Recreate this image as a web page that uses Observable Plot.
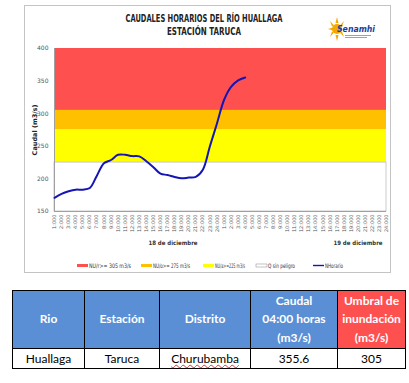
<!DOCTYPE html>
<html><head><meta charset="utf-8">
<script src="https://cdn.jsdelivr.net/npm/d3@7"></script>
<script src="https://cdn.jsdelivr.net/npm/@observablehq/plot@0.6"></script>
<style>
body{margin:0;background:#fff;}
#wrap{position:relative;width:409px;height:383px;overflow:hidden;font-family:"Liberation Sans Narrow","DejaVu Sans Condensed",sans-serif;}
#box{position:absolute;left:24px;top:5px;width:367px;height:268px;border:1px solid #c4c4c4;box-sizing:border-box;}
#chart{position:absolute;left:0;top:0;}
.day{position:absolute;font-weight:bold;font-size:6px;color:#333;transform:translateX(-50%);}
#legend{position:absolute;top:260px;left:0;}
table{position:absolute;left:12px;top:290px;border-collapse:collapse;font-family:Lato,"Open Sans",sans-serif;font-size:12px;}
td{border:1px solid #000;text-align:center;padding:0;}
th{border:1px solid #000;color:#fff;font-weight:bold;background:#5a8fd6;line-height:18.5px;padding:0;}
th.red{background:#ff5050;}
</style></head>
<body><div id="wrap">
<div id="box"></div>
<div id="chart"></div>
<svg style="position:absolute;left:0;top:0" width="409" height="45">
  <text x="204" y="22" text-anchor="middle" font-family="Liberation Sans Narrow, DejaVu Sans" font-weight="bold" font-size="10" fill="#222" textLength="157" lengthAdjust="spacingAndGlyphs">CAUDALES HORARIOS DEL RÍO HUALLAGA</text>
  <text x="204" y="35" text-anchor="middle" font-family="Liberation Sans Narrow, DejaVu Sans" font-weight="bold" font-size="10" fill="#222" textLength="74" lengthAdjust="spacingAndGlyphs">ESTACIÓN TARUCA</text>
</svg>
<svg id="logo" style="position:absolute;left:328px;top:16px" width="52" height="28">
  <g fill="#f5a800">
    <circle cx="9" cy="13" r="5"/>
    <path d="M9 1 L10.5 7 L7.5 7Z M9 25 L10.5 19 L7.5 19Z M0 13 L5 11.5 L5 14.5Z M2 5 L6 9.5 L4 10.5Z M2 21 L6 16.5 L4 15.5Z M16 5 L12 9.5 L14 10.5Z M16 21 L12 16.5 L14 15.5Z"/>
  </g>
  <text x="9" y="16" font-family="DejaVu Sans" font-style="italic" font-weight="bold" font-size="9" fill="#1d3f9a" textLength="38" lengthAdjust="spacingAndGlyphs">Senamhi</text>
  <rect x="17" y="19" width="26" height="0.8" fill="#7a8ab8"/>
  <rect x="17" y="21" width="22" height="0.8" fill="#7a8ab8"/>
</svg>
<div class="day" style="left:173px;top:239px">18 de diciembre</div>
<div class="day" style="left:358px;top:239px">19 de diciembre</div>
<svg id="legend" width="409" height="12"></svg>
<table>
<tr style="height:58px"><th style="width:71px">Rio</th><th style="width:74px">Estación</th><th style="width:90px">Distrito</th><th style="width:86px">Caudal<br>04:00 horas<br>(m3/s)</th><th class="red" style="width:67px">Umbral de<br>inundación<br>(m3/s)</th></tr>
<tr style="height:20px"><td id="c0"></td><td id="c1"></td><td id="c2" style="text-decoration:underline wavy #e03030;text-decoration-thickness:1px;"></td><td id="c3"></td><td id="c4"></td></tr>
</table>
</div>
<script>
const hourLabels = ["1:000","2:000","3:000","4:000","5:000","6:000","7:000","8:000","9:000","10:000","11:000","12:000","13:000","14:000","15:000","16:000","17:000","18:000","19:000","20:000","21:000","22:000","23:000","24:000","1:000","2:000","3:000","4:000","5:000","6:000","7:000","8:000","9:000","10:000","11:000","12:000","13:000","14:000","15:000","16:000","17:000","18:000","19:000","20:000","21:000","22:000","23:000","24:000"];
const caudal = [171,177,181,183.5,183.5,186,205,224,229,237,237,235,234.5,227,218,208,206,203,201,202,203,214,250,285,321,341,351,355.6];
const bandLabels = ["NU/r>= 305 m3/s","NU/o>= 275 m3/s","NU/a>=225 m3/s","Q sin peligro"];
const bandLow = [305,275,225,150];
const bandHigh = [400,305,275,225];
const bandColors = ["#ff5050","#ffc000","#ffff00","#ffffff"];
const lineLabel = "NHorario";
const lineColor = "#1515b5";
const yTicks = [150,200,250,300,350,400];
const tableValues = ["Huallaga","Taruca","Churubamba","355.6","305"];

const bands = bandLabels.map((l,i)=>({label:l, lo:bandLow[i], hi:bandHigh[i], color:bandColors[i]}));
const series = caudal.map((v,i)=>({i, v}));
const lastIdx = hourLabels.length - 1;

const plot = Plot.plot({
  width: 409, height: 245,
  marginLeft: 54, marginRight: 23, marginTop: 48, marginBottom: 34,
  style: {fontFamily: "DejaVu Sans", background: "transparent", color: "#555"},
  x: {domain: [0, lastIdx], ticks: d3.range(hourLabels.length), tickFormat: i => hourLabels[i], tickRotate: -90, tickSize: 0, tickPadding: 3, label: null},
  y: {domain: [150, 400], ticks: yTicks, tickSize: 0, tickPadding: 6, label: "Caudal (m3/s)", labelAnchor: "center", labelOffset: 22, labelArrow: "none"},
  marks: [
    Plot.rect(bands, {x1: 0, x2: lastIdx, y1: "lo", y2: "hi", fill: "color", stroke: d => d.color === "#ffffff" ? "#bdbdbd" : "none", strokeWidth: 0.8}),
    Plot.ruleX([0], {stroke: "#a0a0a0"}),
    Plot.ruleY([150], {stroke: "#a0a0a0"}),
    Plot.line(series, {x: "i", y: "v", stroke: lineColor, strokeWidth: 2, curve: "catmull-rom"})
  ]
});
document.getElementById("chart").appendChild(plot);
plot.querySelectorAll("[aria-label='x-axis tick label'] text").forEach(t=>t.setAttribute("font-size","5"));
plot.querySelectorAll("[aria-label='y-axis tick label'] text").forEach(t=>t.setAttribute("font-size","6"));
const yl = plot.querySelector("[aria-label='y-axis label']");
if (yl) { yl.setAttribute("font-size","6.5"); yl.setAttribute("font-weight","bold"); yl.setAttribute("fill","#222"); }

// legend (SVG)
const leg = d3.select("#legend");
const legX = [77,141,203,256,313];
const legTextW = [42,37,30,27,18];
const items = bands.map(b=>({label:b.label, color:b.color, kind:"rect"})).concat([{label:lineLabel, color:lineColor, kind:"line"}]);
items.forEach((it,i)=>{
  const g = leg.append("g").attr("transform",`translate(${legX[i]},4)`);
  if (it.kind==="rect") g.append("rect").attr("x",0).attr("y",0).attr("width",11).attr("height",3).attr("fill",it.color).attr("stroke", it.color==="#ffffff" ? "#999" : "none").attr("stroke-width",0.6);
  else g.append("rect").attr("x",0).attr("y",0.8).attr("width",11).attr("height",1.4).attr("fill",it.color);
  g.append("text").attr("x",12).attr("y",3.8).attr("font-size",6.2).attr("font-family","Liberation Sans Narrow, DejaVu Sans").attr("fill","#333")
    .attr("textLength",legTextW[i]).attr("lengthAdjust","spacingAndGlyphs").text(it.label);
});
tableValues.forEach((v,i)=>document.getElementById("c"+i).textContent=v);
</script>
</body></html>
